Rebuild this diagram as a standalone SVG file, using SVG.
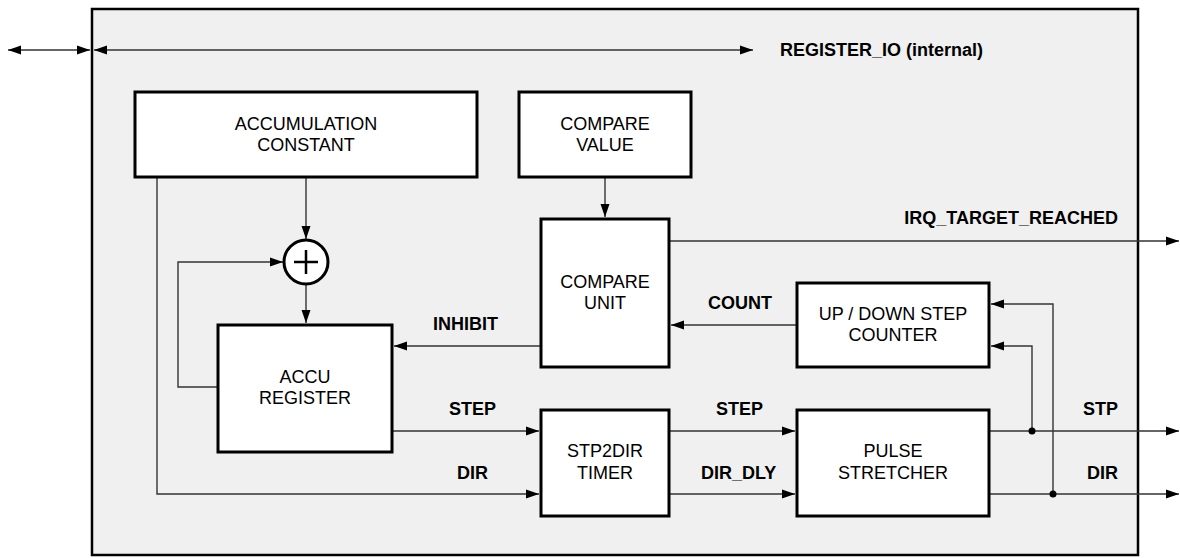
<svg xmlns="http://www.w3.org/2000/svg" width="1180" height="558" viewBox="0 0 1180 558">
<defs>
<marker id="ah" markerUnits="userSpaceOnUse" markerWidth="13" markerHeight="10" refX="13" refY="5" orient="auto-start-reverse" viewBox="0 0 13 10">
<path d="M0,0.5 L13,5 L0,9.5 z" fill="#000"/>
</marker>
<style>
.box{fill:#fff;stroke:#000;stroke-width:3}
.t{font-family:"Liberation Sans",Arial,sans-serif;font-size:18px;fill:#000;text-anchor:middle}
.b{font-family:"Liberation Sans",Arial,sans-serif;font-size:18px;font-weight:bold;fill:#000}
.c{fill:none;stroke:#333;stroke-width:1.4}
.a{marker-end:url(#ah)}
.d{marker-start:url(#ah);marker-end:url(#ah)}
</style>
</defs>
<rect id="frame" x="92" y="9" width="1046" height="546" fill="#f0f0f0" stroke="#000" stroke-width="2.5"/>

<g id="connectors">
<path class="c d" d="M8,50 H90"/>
<path class="c d" d="M94,50 H753"/>
<path class="c a" d="M306,178 V239"/>
<path class="c a" d="M306,285 V323"/>
<path class="c a" d="M217,387 H178 V262 H283"/>
<path class="c a" d="M605,178 V217"/>
<path class="c a" d="M540,346 H394"/>
<path class="c a" d="M796,325 H671"/>
<path class="c a" d="M670,241 H1179"/>
<path class="c a" d="M393,431 H539"/>
<path class="c a" d="M157,178 V494 H539"/>
<path class="c a" d="M670,431 H795"/>
<path class="c a" d="M670,494 H795"/>
<path class="c a" d="M990,431 H1179"/>
<path class="c a" d="M990,494 H1179"/>
<path class="c a" d="M1032,431 V346 H991"/>
<path class="c a" d="M1053,494 V304 H991"/>
<circle cx="1032" cy="431" r="3.5" fill="#000"/>
<circle cx="1053" cy="494" r="3.5" fill="#000"/>
</g>

<g id="labels">
<text class="b" x="780" y="56">REGISTER_IO (internal)</text>
<text class="b" x="1118" y="224" text-anchor="end">IRQ_TARGET_REACHED</text>
<text class="b" x="433" y="330">INHIBIT</text>
<text class="b" x="708" y="309">COUNT</text>
<text class="b" x="449" y="415">STEP</text>
<text class="b" x="457" y="479">DIR</text>
<text class="b" x="716" y="415">STEP</text>
<text class="b" x="701" y="479">DIR_DLY</text>
<text class="b" x="1118" y="415" text-anchor="end">STP</text>
<text class="b" x="1118" y="479" text-anchor="end">DIR</text>
</g>

<g id="accumulation_constant">
<rect class="box" x="135" y="92" width="342" height="85"/>
<text class="t" x="306" y="130">ACCUMULATION</text>
<text class="t" x="306" y="151">CONSTANT</text>
</g>
<g id="compare_value">
<rect class="box" x="519" y="92" width="172" height="85"/>
<text class="t" x="605" y="130">COMPARE</text>
<text class="t" x="605" y="151">VALUE</text>
</g>
<g id="adder">
<circle cx="306" cy="262" r="22" fill="#fff" stroke="#000" stroke-width="3"/>
<path d="M294,262 H318 M306,250 V274" stroke="#000" stroke-width="2.5"/>
</g>
<g id="accu_register">
<rect class="box" x="218" y="325" width="174" height="127"/>
<text class="t" x="305" y="383">ACCU</text>
<text class="t" x="305" y="404">REGISTER</text>
</g>
<g id="compare_unit">
<rect class="box" x="541" y="219" width="128" height="148"/>
<text class="t" x="605" y="288">COMPARE</text>
<text class="t" x="605" y="309">UNIT</text>
</g>
<g id="step_counter">
<rect class="box" x="797" y="283" width="192" height="84"/>
<text class="t" x="893" y="320">UP / DOWN STEP</text>
<text class="t" x="893" y="341">COUNTER</text>
</g>
<g id="stp2dir_timer">
<rect class="box" x="541" y="410" width="128" height="106"/>
<text class="t" x="605" y="457">STP2DIR</text>
<text class="t" x="605" y="479">TIMER</text>
</g>
<g id="pulse_stretcher">
<rect class="box" x="797" y="410" width="192" height="106"/>
<text class="t" x="893" y="457">PULSE</text>
<text class="t" x="893" y="479">STRETCHER</text>
</g>
</svg>
